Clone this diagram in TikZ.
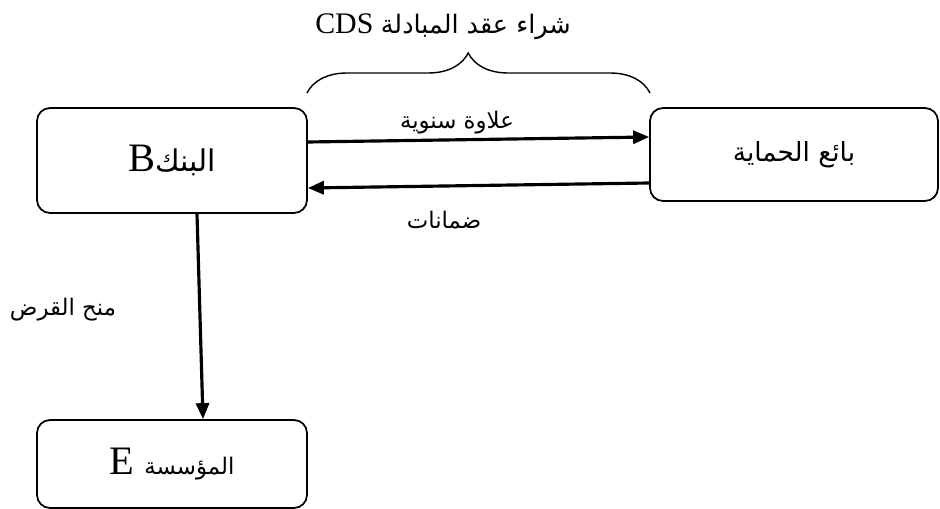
\documentclass[tikz,border=0pt]{standalone}
\usepackage{fontspec}
\setmainfont{Liberation Serif}
\newfontfamily\arabicfont[Script=Arabic]{DejaVu Sans}
\TeXXeTstate=1
\usetikzlibrary{arrows.meta,calc,decorations.pathreplacing}

\newcommand{\artext}[1]{{\arabicfont\beginR #1\endR}}

\begin{document}
\begin{tikzpicture}[x=0.02cm,y=-0.02cm]
    \tikzset{
      party/.style={draw=black,line width=1pt,rounded corners=0.26cm,align=center,inner sep=0pt,font=\fontsize{23}{26}\selectfont},
      flow/.style={-{Triangle[length=3.2mm,width=2.6mm]},line width=1.8pt},
      tag/.style={inner sep=0pt,font=\fontsize{13}{15}\selectfont}
    }
    \useasboundingbox (0,0) rectangle (940,509);
    % parties
    \node[party,minimum width=5.4cm,minimum height=2.1cm] (bank) at (172,160.5)
      {B{\fontsize{17}{20}\selectfont\artext{البنك}}};
    \node[party,minimum width=5.76cm,minimum height=1.86cm] (seller) at (794,154.5)
      {{\fontsize{15}{18}\selectfont\artext{بائع الحماية}}};
    \node[party,minimum width=5.4cm,minimum height=1.76cm] (firm) at (172,464)
      {E {\fontsize{13}{16}\selectfont\artext{المؤسسة}}};
    % swap contract
    \node[inner sep=0pt,font=\fontsize{17}{20}\selectfont] (title) at (443,27)
      {CDS {\fontsize{14.5}{17}\selectfont\artext{شراء عقد المبادلة}}};
    \coordinate (braceL) at (307,93);
    \coordinate (braceR) at (650,93);
    \draw[decorate,decoration={brace,amplitude=0.8cm,aspect=0.47},line width=0.8pt] (braceL) -- (braceR);
    % flows
    \draw[flow] ($(bank.east)+(0,-18.5)$) -- ($(seller.west)+(0,-17.5)$);
    \draw[flow] ($(seller.west)+(0,28.5)$) -- ($(bank.east)+(0,27.5)$);
    \draw[flow] ($(bank.south)+(25,0)$) -- ($(firm.north)+(31,0)$);
    \node[tag] (premium) at (457,123) {\artext{علاوة سنوية}};
    \node[tag] (collateral) at (444,220) {\artext{ضمانات}};
    \node[tag] (loan) at (63,310) {\artext{منح القرض}};
\end{tikzpicture}
\end{document}
